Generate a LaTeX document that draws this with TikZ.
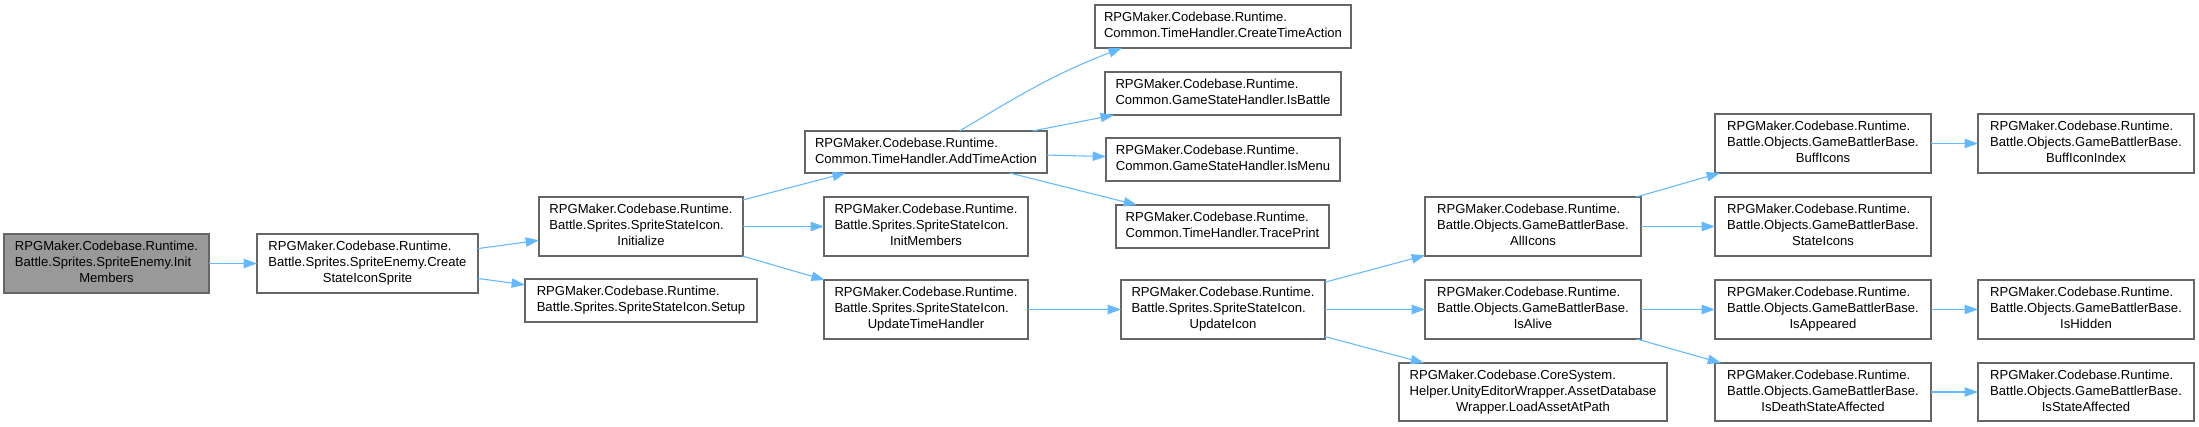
\documentclass[tikz,border=0pt]{standalone}
\usepackage{fontspec}
\setmainfont{Liberation Sans}
\usetikzlibrary{arrows.meta}
\definecolor{edgec}{HTML}{63B8FF}
\definecolor{bordc}{HTML}{666666}
\definecolor{rootc}{HTML}{999999}
\newcommand\tl[3]{\begin{tabular}{@{}l@{}}#1\\#2\\\multicolumn{1}{@{}c@{}}{#3}\end{tabular}}
\newcommand\tw[2]{\begin{tabular}{@{}l@{}}#1\\\multicolumn{1}{@{}c@{}}{#2}\end{tabular}}
\newcommand\bx[7][]{\node[box,#1,minimum width={(#5-#3)*0.75pt},minimum height={(#6-#4)*0.75pt}] (#2) at ({(#3+#5)/2},{(#4+#6)/2}) {#7};}
\begin{document}
\begin{tikzpicture}[x=0.75pt,y=-0.75pt,
  box/.style={draw=bordc,fill=white,line width=0.8pt,inner sep=0pt,outer sep=0pt,font=\fontsize{9.8}{12}\selectfont,rectangle},
  root/.style={fill=rootc},
  edge/.style={draw=edgec,line width=0.8pt,-{Triangle[length=10pt,width=7pt,fill=edgec]}}]
\useasboundingbox (0,0) rectangle (2199,427);
\bx[root]{n1}{4}{234}{209}{293}{\tl{RPGMaker.Codebase.Runtime.}{Battle.Sprites.SpriteEnemy.Init}{Members}}
\bx{n2}{257}{234}{478}{293}{\tl{RPGMaker.Codebase.Runtime.}{Battle.Sprites.SpriteEnemy.Create}{StateIconSprite}}
\bx{ini}{539}{197}{743}{256}{\tl{RPGMaker.Codebase.Runtime.}{Battle.Sprites.SpriteStateIcon.}{Initialize}}
\bx{set}{525}{279}{757}{322}{\tw{RPGMaker.Codebase.Runtime.}{Battle.Sprites.SpriteStateIcon.Setup}}
\bx{ata}{805}{131}{1047}{173}{\tw{RPGMaker.Codebase.Runtime.}{Common.TimeHandler.AddTimeAction}}
\bx{im2}{824}{197}{1028}{256}{\tl{RPGMaker.Codebase.Runtime.}{Battle.Sprites.SpriteStateIcon.}{InitMembers}}
\bx{uth}{824}{280}{1028}{339}{\tl{RPGMaker.Codebase.Runtime.}{Battle.Sprites.SpriteStateIcon.}{UpdateTimeHandler}}
\bx{cta}{1095}{5}{1351}{48}{\tw{RPGMaker.Codebase.Runtime.}{Common.TimeHandler.CreateTimeAction}}
\bx{isb}{1105}{72}{1341}{115}{\tw{RPGMaker.Codebase.Runtime.}{Common.GameStateHandler.IsBattle}}
\bx{ism}{1106}{138}{1340}{181}{\tw{RPGMaker.Codebase.Runtime.}{Common.GameStateHandler.IsMenu}}
\bx{trp}{1116}{205}{1329}{248}{\tw{RPGMaker.Codebase.Runtime.}{Common.TimeHandler.TracePrint}}
\bx{upi}{1121}{280}{1325}{339}{\tl{RPGMaker.Codebase.Runtime.}{Battle.Sprites.SpriteStateIcon.}{UpdateIcon}}
\bx{all}{1425}{197}{1641}{256}{\tl{RPGMaker.Codebase.Runtime.}{Battle.Objects.GameBattlerBase.}{AllIcons}}
\bx{isa}{1425}{280}{1641}{339}{\tl{RPGMaker.Codebase.Runtime.}{Battle.Objects.GameBattlerBase.}{IsAlive}}
\bx{lda}{1399}{363}{1667}{421}{\tl{RPGMaker.Codebase.CoreSystem.}{Helper.UnityEditorWrapper.AssetDatabase}{Wrapper.LoadAssetAtPath}}
\bx{bfi}{1715}{114}{1931}{173}{\tl{RPGMaker.Codebase.Runtime.}{Battle.Objects.GameBattlerBase.}{BuffIcons}}
\bx{sti}{1715}{197}{1931}{256}{\tl{RPGMaker.Codebase.Runtime.}{Battle.Objects.GameBattlerBase.}{StateIcons}}
\bx{iap}{1715}{280}{1931}{339}{\tl{RPGMaker.Codebase.Runtime.}{Battle.Objects.GameBattlerBase.}{IsAppeared}}
\bx{ids}{1715}{363}{1931}{421}{\tl{RPGMaker.Codebase.Runtime.}{Battle.Objects.GameBattlerBase.}{IsDeathStateAffected}}
\bx{bfx}{1978}{114}{2194}{173}{\tl{RPGMaker.Codebase.Runtime.}{Battle.Objects.GameBattlerBase.}{BuffIconIndex}}
\bx{ihd}{1978}{280}{2194}{339}{\tl{RPGMaker.Codebase.Runtime.}{Battle.Objects.GameBattlerBase.}{IsHidden}}
\bx{isf}{1978}{363}{2194}{421}{\tl{RPGMaker.Codebase.Runtime.}{Battle.Objects.GameBattlerBase.}{IsStateAffected}}
\draw[edge] (n1) -- (n2);
\draw[edge] (n2) -- (ini);
\draw[edge] (n2) -- (set);
\draw[edge] (ini) -- (ata);
\draw[edge] (ini) -- (im2);
\draw[edge] (ini) -- (uth);
\draw[edge] (ata.32) to[out=31,in=201] (cta.192);
\draw[edge] (ata) -- (isb);
\draw[edge] (ata) -- (ism);
\draw[edge] (ata) -- (trp);
\draw[edge] (uth) -- (upi);
\draw[edge] (upi) -- (all);
\draw[edge] (upi) -- (isa);
\draw[edge] (upi) -- (lda);
\draw[edge] (all) -- (bfi);
\draw[edge] (all) -- (sti);
\draw[edge] (isa) -- (iap);
\draw[edge] (isa) -- (ids);
\draw[edge] (bfi) -- (bfx);
\draw[edge] (iap) -- (ihd);
\draw[edge] (ids) -- (isf);
\end{tikzpicture}
\end{document}
